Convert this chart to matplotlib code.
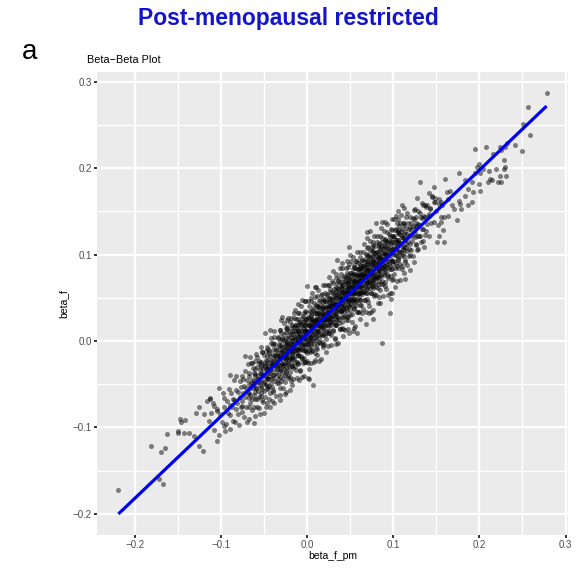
import numpy as np
import matplotlib
matplotlib.use("Agg")
import matplotlib.pyplot as plt

# ---- data (in units of 0.001) ----
lower_tail_x = [-219,-181,-170,-165,-163,-172,-167,-150,-150,-147,-146,-142,-143,-137,-131,-125,-121,-126,-129,-120,
                -116,-113,-108,-111,-104,-114,-108,-105,-102,-113,-97,-109,-89,-72]
lower_tail_y = [-173,-122,-128,-124,-108,-160,-166,-106,-104,-90,-94,-91,-107,-106,-110,-122,-127,-77,-83,-85,
                -69,-66,-75,-83,-81,-93,-103,-116,-55,-67,-66,-72,-39,-17]

core_x = [
    -104,-102,-101,-99,-98,-97,-96,-95,
    -94,-93,-92,-91,-90,-90,-89,-88,-87,-86,-86,-85,
    -85,-84,-83,-83,-82,-81,-80,-80,-79,-78,-78,-77,-77,-76,-76,-75,
    -75,-74,-74,-73,-73,-72,-72,-71,-71,-70,-70,-69,-69,-68,-68,-67,-67,-66,-66,-65,
    -64,-64,-63,-63,-62,-62,-62,-61,-61,-60,-60,-60,-59,-59,-58,-58,-58,-57,-57,-57,-56,-56,-55,-55,-55,-54,
    -54,-54,-53,-53,-53,-52,-52,-52,-51,-51,-51,-50,-50,-50,-50,-49,-49,-49,-48,-48,-48,-47,-47,-47,-46,-46,-46,-46,-45,-45,-45,-45,
    -44,-44,-44,-44,-43,-43,-43,-43,-42,-42,-42,-41,-41,-41,-41,-40,-40,-40,-39,-39,-39,-39,-38,-38,-38,-37,-37,-37,-37,-36,-36,-36,-35,-35,-35,-35,
    -34,-34,-34,-34,-33,-33,-33,-33,-32,-32,-32,-32,-31,-31,-31,-31,-30,-30,-30,-30,-29,-29,-29,-29,-28,-28,-28,-28,-27,-27,-27,-27,-26,-26,-26,-26,-25,-25,-25,-25,
    -24,-24,-24,-24,-23,-23,-23,-23,-22,-22,-22,-22,-22,-21,-21,-21,-21,-20,-20,-20,-20,-19,-19,-19,-19,-19,-18,-18,-18,-18,-17,-17,-17,-17,-16,-16,-16,-16,-15,-15,-15,-15,-15,
    -14,-14,-14,-14,-13,-13,-13,-13,-13,-12,-12,-12,-12,-11,-11,-11,-11,-10,-10,-10,-10,-10,-9,-9,-9,-9,-8,-8,-8,-8,-7,-7,-7,-7,-7,-6,-6,-6,-6,-5,-5,-5,-5,-5,
    -4,-4,-4,-4,-4,-3,-3,-3,-3,-2,-2,-2,-2,-1,-1,-1,-1,-1,0,0,0,0,1,1,1,1,2,2,2,2,2,3,3,3,3,4,4,4,4,5,5,5,5,5,
    6,6,6,6,7,7,7,7,7,8,8,8,8,9,9,9,9,10,10,10,10,10,11,11,11,11,12,12,12,12,13,13,13,13,13,14,14,14,14,15,15,15,15,
    16,16,16,16,16,17,17,17,17,18,18,18,18,19,19,19,19,19,20,20,20,20,21,21,21,21,22,22,22,22,22,23,23,23,23,24,24,24,24,25,25,25,25,
    26,26,26,26,26,27,27,27,27,28,28,28,28,28,29,29,29,29,30,30,30,30,30,31,31,31,31,32,32,32,32,32,33,33,33,33,34,34,34,34,34,35,35,35,35,
    36,36,36,36,36,37,37,37,37,38,38,38,38,38,39,39,39,39,39,40,40,40,40,41,41,41,41,41,42,42,42,42,43,43,43,43,43,44,44,44,44,45,45,45,45,45,
    46,46,46,46,46,47,47,47,47,47,48,48,48,48,48,49,49,49,49,49,50,50,50,50,50,51,51,51,51,51,52,52,52,52,52,53,53,53,53,53,54,54,54,54,54,55,55,55,55,55,
    56,56,56,56,56,57,57,57,57,57,58,58,58,58,58,59,59,59,59,59,60,60,60,60,60,61,61,61,61,61,62,62,62,62,62,63,63,63,63,63,64,64,64,64,64,65,65,65,65,65,
    66,66,66,66,66,67,67,67,67,68,68,68,68,68,69,69,69,69,70,70,70,70,70,71,71,71,71,71,72,72,72,72,73,73,73,73,73,74,74,74,74,75,75,75,75,75,
    76,76,76,76,77,77,77,77,77,78,78,78,78,79,79,79,79,80,80,80,80,80,81,81,81,81,82,82,82,82,83,83,83,83,83,84,84,84,84,85,85,85,85,
    86,86,86,86,87,87,87,87,88,88,88,88,89,89,89,89,90,90,90,91,91,91,91,92,92,92,93,93,93,93,94,94,94,95,95,95,95,
    96,96,96,97,97,97,98,98,98,99,99,99,100,100,100,101,101,101,102,102,102,103,103,103,104,104,104,105,105,105,
    106,106,106,107,107,108,108,108,109,109,110,110,110,111,111,112,112,113,113,114,114,115,115,
    116,116,117,117,118,118,119,120,120,121,121,122,123,123,124,125,125,
    126,126,127,128,129,129,130,131,132,133,133,135,
    136,137,138,139,141,142,143,144,145,
    147,148,150,152,153,155,157,159,162,164]
core_y = [
    -79,-109,-85,-94,-60,-98,-77,-104,
    -96,-70,-83,-56,-102,-74,-86,-60,-76,-93,-67,-45,
    -68,-94,-57,-79,-40,-72,-84,-59,-97,-46,-65,-76,-53,-69,-40,-82,
    -75,-44,-60,-88,-52,-65,-35,-76,-55,-94,-45,-60,-27,-66,-50,-77,-40,-62,-55,-26,
    -45,-67,-31,-55,-76,-46,-37,-59,-23,-67,-49,-38,-54,-15,-77,-44,-30,-58,-39,-47,-23,-65,-34,-51,-84,-28,
    -53,-24,-38,-64,-30,-45,-13,-56,-33,-71,-39,-48,-25,-16,-58,-41,-29,-65,-32,-50,-12,-43,-17,-72,-33,-52,-23,-37,-9,-44,-27,-55,
    -29,-52,-12,-41,-60,-22,-33,-17,-35,-2,-44,-23,-53,-28,-69,-16,-39,-5,-43,-27,-10,-59,-21,-33,5,-46,-16,-28,-3,-22,-37,-9,-49,-16,-29,-24,
    -14,-39,3,-28,-49,-17,-32,-5,-20,-42,-9,13,-28,0,-54,-17,-5,-32,-21,9,-37,-12,-25,2,-16,-43,-7,-29,8,-20,-32,-11,-47,-1,-17,-25,-5,-35,15,-19,
    -21,4,-37,-10,-2,-25,14,-15,-41,-10,3,-27,-5,12,-16,-30,-2,-20,-10,22,-36,4,-26,-4,-12,-46,11,-17,-29,-7,-20,1,19,-13,-3,-31,8,-8,-21,5,-12,16,32,
    2,-24,19,-8,-14,11,-34,-2,26,8,-9,-24,15,-16,2,25,-11,0,-26,12,-5,19,-17,9,-1,32,6,-11,22,-34,-4,17,-17,4,11,27,-6,0,-21,15,-10,7,-25,22,
    -5,18,-20,7,32,13,-11,25,3,-6,11,-24,23,33,2,17,-12,7,0,21,-14,12,28,-4,10,-26,7,19,-7,40,1,25,-13,17,5,-2,34,11,23,16,-6,29,3,50,
    7,26,-12,18,36,1,16,11,24,-4,23,14,44,32,8,-14,20,6,42,23,1,18,28,13,-4,35,18,-9,32,52,26,7,40,12,22,3,32,18,46,30,-2,38,16,
    27,8,42,17,53,13,33,-1,25,39,22,7,49,18,32,-7,38,25,47,13,29,22,7,39,55,26,34,19,45,2,25,39,11,30,52,18,34,25,65,45,9,39,23,
    29,50,13,41,34,45,22,60,31,19,40,7,49,28,57,35,25,43,13,49,40,29,67,43,22,56,34,19,47,2,53,38,63,33,26,43,31,53,18,42,73,51,24,39,61,
    45,28,60,37,70,21,52,42,57,51,35,68,14,45,33,61,41,77,50,57,28,48,39,44,68,22,55,60,65,37,47,14,41,53,75,33,59,69,46,29,56,38,63,51,74,24,
    58,35,67,49,79,43,73,55,29,64,67,48,24,58,86,40,63,54,73,46,79,36,61,52,68,49,72,43,57,92,66,31,76,55,46,54,72,41,83,64,61,50,88,38,70,46,67,78,55,60,
    71,49,85,58,65,42,77,63,55,93,70,47,83,62,75,55,90,67,34,78,83,60,51,74,64,42,78,71,58,88,69,56,83,97,48,65,78,42,87,74,82,62,54,94,69,58,74,87,37,78,
    76,57,92,67,83,63,88,47,74,84,71,101,55,79,68,93,61,82,89,55,78,67,99,74,84,45,92,109,83,65,98,72,61,89,78,104,70,82,55,93,76,89,70,98,64,109,
    92,72,104,61,84,67,98,114,78,72,91,54,102,89,78,110,67,62,98,85,75,94,103,82,73,114,90,61,97,79,74,109,89,100,83,97,70,113,87,81,104,59,94,
    96,75,110,86,70,102,89,119,106,84,95,66,88,111,76,102,118,83,95,81,102,64,110,98,89,116,77,108,93,126,104,73,112,89,102,117,83,
    109,87,121,95,116,75,105,83,129,93,114,103,122,89,101,111,77,119,99,129,107,117,90,105,87,115,137,111,98,126,
    117,94,129,104,124,113,89,137,123,103,110,130,83,119,101,137,109,98,124,117,91,131,109,
    124,104,137,115,98,130,123,112,144,136,105,122,133,98,141,120,131,
    133,112,143,121,151,107,134,121,144,130,160,116,
    145,123,155,135,145,121,154,137,167,
    138,161,150,134,159,143,157,144,172,164]

# second pass over the dense central band
dense_x = [
    -68,-66,-67,-65,-68,-66, -64,-62,-63,-61,-64,-62, -60,-58,-59,-57,-60,-58, -56,-54,-55,-53,-56,-54,
    -52,-50,-51,-49,-52,-50, -48,-46,-47,-45,-48,-46, -44,-42,-43,-41,-44,-42, -40,-38,-39,-37,-40,-38,
    -36,-34,-35,-33,-36,-34,
    -32,-30,-31,-29,-32,-30,-31,-29,-31,-30, -28,-26,-27,-25,-28,-26,-27,-25,-27,-26,
    -24,-22,-23,-21,-24,-22,-23,-21,-23,-22, -20,-18,-19,-17,-20,-18,-19,-17,-19,-18,
    -16,-14,-15,-13,-16,-14,-15,-13,-15,-14, -12,-10,-11,-9,-12,-10,-11,-9,-11,-10,
    -8,-6,-7,-5,-8,-6,-7,-5,-7,-6, -4,-2,-3,-1,-4,-2,-3,-1,-3,-2,
    0,2,1,3,0,2,1,3,1,2, 4,6,5,7,4,6,5,7,5,6,
    8,10,9,11,8,10,9,11,9,10, 12,14,13,15,12,14,13,15,13,14,
    16,18,17,19,16,18,17,19,17,18, 20,22,21,23,20,22,21,23,21,22,
    24,26,25,27,24,26,25,27,25,26, 28,30,29,31,28,30,29,31,29,30,
    32,34,33,35,32,34,33,35,33,34, 36,38,37,39,36,38,37,39,37,38,
    40,42,41,43,40,42,41,43,41,42, 44,46,45,47,44,46,45,47,45,46,
    48,50,49,51,48,50,49,51,49,50, 52,54,53,55,52,54,53,55,53,54,
    56,58,57,59,56,58,57,59,57,58, 60,62,61,63,60,62,61,63,61,62,
    64,66,65,67,64,66,65,67,65,66, 68,70,69,71,68,70,69,71,69,70,
    72,74,73,75,72,74,73,75,73,74, 76,78,77,79,76,78,77,79,77,78,
    80,82,81,83,80,82,81,83,81,82, 84,86,85,87,84,86,85,87,85,86,
    88,90,89,91,88,90,89,91,89,90, 92,94,93,95,92,94,93,95,93,94,
    96,98,97,99,96,98,97,99,97,98, 100,102,101,103,100,102,101,103,101,102,
    104,106,105,107,104,106,105,107,105,106, 108,110,109,111,108,110,109,111,109,110,
    112,114,113,115,112,114,113,115,113,114,
    116,118,117,119,116, 120,122,121,123,120, 124,126,125,127,124, 128,130,129,131,128,
    132,134,133,135, 136,138,137,139]
dense_y = [
    -90,-72,-60,-49,-37,-19, -80,-62,-51,-40,-25,-95, -87,-67,-55,-44,-33,-18, -78,-60,-48,-37,-25,-7,
    -68,-50,-39,-28,-13,-83, -76,-56,-44,-33,-22,-7, -67,-49,-37,-26,-14,4, -57,-39,-28,-17,-2,-72,
    -64,-44,-32,-21,-10,5,
    -62,-46,-35,-27,-20,-13,-6,3,13,24, -54,-39,-28,-21,-14,-7,1,10,21,-61,
    -59,-43,-31,-22,-15,-8,-1,7,16,27, -42,-29,-21,-14,-7,0,8,16,27,-51,
    -44,-29,-19,-11,-4,3,11,19,27,36, -43,-27,-16,-8,-1,6,13,22,32,43,
    -35,-20,-9,-2,5,12,20,29,40,-42, -40,-24,-12,-3,4,11,18,26,35,46,
    -23,-10,-2,5,12,19,27,35,46,-32, -25,-10,0,8,15,22,30,38,46,55,
    -24,-8,3,11,18,25,32,41,51,62, -16,-1,10,17,24,31,39,48,59,-23,
    -21,-5,7,16,23,30,37,45,54,65, -4,9,17,24,31,38,46,54,65,-13,
    -6,9,19,27,34,41,49,57,65,74, -5,11,22,30,37,44,51,60,70,81,
    3,18,29,36,43,50,58,67,78,-4, -2,14,26,35,42,49,56,64,73,84,
    15,28,36,43,50,57,65,73,84,6, 13,28,38,46,53,60,68,76,84,93,
    14,30,41,49,56,63,70,79,89,100, 22,37,48,55,62,69,77,86,97,15,
    17,33,45,54,61,68,75,83,92,103, 34,47,55,62,69,76,84,92,103,25,
    32,47,57,65,72,79,87,95,103,112, 33,49,60,68,75,82,89,98,108,119,
    41,56,67,74,81,88,96,105,116,34, 36,52,64,73,80,87,94,102,111,122,
    53,66,74,81,88,95,103,111,122,44, 51,66,76,84,91,98,106,114,122,131,
    52,68,79,87,94,101,108,117,127,138, 60,75,86,93,100,107,115,124,135,53,
    55,71,83,92,99,106,113,121,130,141, 72,85,93,100,107,114,122,130,141,63,
    70,85,95,103,110,117,125,133,141,150, 71,87,98,106,113,120,127,136,146,157,
    79,94,105,112,119,126,134,143,154,72,
    88,106,120,132,148, 100,116,129,142,82, 91,111,125,137,152, 105,122,135,148,165,
    115,130,142,157, 109,127,143,157]

mid_x = [-43,-49,-29,-23,-38,-6,-3,0,9,35,9,1,-9,-20,-32,-43,7,2,87,96,85,99,97,53,58,49,68,76,72,70,80,87,73,49,41]
mid_y = [13,9,28,24,11,48,46,64,63,94,-22,-43,-45,-57,-68,-76,-51,-44,-2,32,44,55,49,11,9,9,20,26,32,126,136,138,127,109,90]

upper_tail_x = [278,257,259,251,249,241,232,230,224,225,208,195,216,229,219,229,230,224,231,225,222,212,210,215,211,204,
                199,197,195,201,191,199,201,193,187,176,160,131,147,145,149,153,156,147,166,176,183,187,179,191,168,125,
                137,143,141,103,174,164,156,170,178,153,159,151,158,141,183]
upper_tail_y = [287,271,238,251,220,227,229,224,224,221,224,222,217,210,199,199,201,191,191,184,184,187,184,186,197,199,
                205,201,195,195,184,182,174,172,176,195,188,184,178,168,166,164,161,161,174,162,168,157,153,161,157,153,
                157,153,147,145,140,145,138,153,159,122,115,115,128,171,186]

# linear fit line (beta_f = a + b * beta_f_pm)
fit_intercept = 0.0078
fit_slope = 0.95

tick_vals = [-0.2, -0.1, 0.0, 0.1, 0.2, 0.3]
minor_vals = [-0.15, -0.05, 0.05, 0.15, 0.25]

title_main = "Post-menopausal restricted"
panel_tag = "a"
plot_title = "Beta\u2212Beta Plot"
x_label = "beta_f_pm"
y_label = "beta_f"

# ---- assemble ----
assert len(core_x) == len(core_y), (len(core_x), len(core_y))
assert len(dense_x) == len(dense_y), (len(dense_x), len(dense_y))
x = np.array(lower_tail_x + core_x + dense_x + mid_x + upper_tail_x, dtype=float) / 1000.0
y = np.array(lower_tail_y + core_y + dense_y + mid_y + upper_tail_y, dtype=float) / 1000.0

x_line = np.array([x.min(), x.max()])
y_line = fit_intercept + fit_slope * x_line

plt.rcParams["font.family"] = ["Liberation Sans", "DejaVu Sans"]

W, H = 576, 569
fig = plt.figure(figsize=(W / 100, H / 100), dpi=100)
fig.patch.set_facecolor("white")

L, R, T, B = 97, 568, 72, 535
ax = fig.add_axes([L / W, 1 - B / H, (R - L) / W, (B - T) / H])
ax.set_facecolor("#EBEBEB")
for s in ax.spines.values():
    s.set_visible(False)

ax.scatter(x, y, s=13, c="black", alpha=0.48, linewidths=0, zorder=3)
ax.plot(x_line, y_line, color="#0000F0", lw=2.3, zorder=4, solid_capstyle="butt")

xr = x.max() - x.min()
ax.set_xlim(x.min() - 0.05 * xr, x.max() + 0.05 * xr)
ylo = min(y.min(), y_line.min())
yhi = max(y.max(), y_line.max())
yr = yhi - ylo
ax.set_ylim(ylo - 0.05 * yr, yhi + 0.05 * yr)

labels = [f"{v:.1f}".replace("-", "\u2212") for v in tick_vals]
ax.set_xticks(tick_vals)
ax.set_xticklabels(labels)
ax.set_yticks(tick_vals)
ax.set_yticklabels(labels)
ax.set_xticks(minor_vals, minor=True)
ax.set_yticks(minor_vals, minor=True)
ax.grid(which="major", color="white", lw=1.6)
ax.grid(which="minor", color="white", lw=0.9)
ax.set_axisbelow(True)
ax.tick_params(which="minor", length=0)
ax.tick_params(which="major", length=2.2, width=1.4, color="#333333",
               labelsize=7, labelcolor="#4D4D4D", pad=1.5)

ax.set_xlabel(x_label, fontsize=7.5, color="black", labelpad=0.5)
ax.set_ylabel(y_label, fontsize=7.5, color="black", labelpad=3)

fig.text(87 / W, 1 - 63 / H, plot_title, fontsize=7.8, ha="left", va="baseline")
fig.text(0.5, 1 - 19 / H, title_main, fontsize=16.5, fontweight="bold",
         color="#1414CC", ha="center", va="center")
fig.text(30 / W, 1 - 52 / H, panel_tag, fontsize=20, ha="center", va="center")

fig.savefig("out.png", dpi=100)
